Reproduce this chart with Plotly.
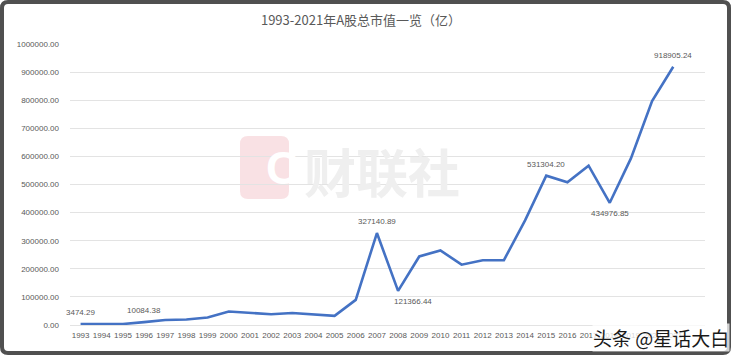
import plotly.graph_objects as go

# ---- data ----
years = [str(y) for y in range(1993, 2022)]
market_cap = [3474.29, 3691, 3474, 10084.38, 17529, 19506, 26471, 48091, 43522,
              38329, 42458, 37056, 32430, 89404, 327140.89, 121366.44, 243939,
              265423, 214758, 230358, 231000, 372547, 531304.20, 507686, 567086,
              434976.85, 592935, 797238, 918905.24]
label_years = ["1993", "1996", "2007", "2008", "2015", "2018", "2021"]
label_pos = ["top", "top", "top", "bottomright", "top", "bottom", "top"]
y_ticks = [0, 100000, 200000, 300000, 400000, 500000, 600000, 700000, 800000, 900000, 1000000]

title = "1993-2021年A股总市值一览（亿）"

# ---- layout geometry (pixels) ----
W, H = 732, 358
L, R, T, B = 70, 705, 44, 325
PW, PH = R - L, B - T


def px(x):
    return (x - L) / PW


def py(y):
    return (B - y) / PH


def rounded_path(x0, y0, x1, y1, r):
    return (f"M {px(x0 + r)} {py(y0)} L {px(x1 - r)} {py(y0)} "
            f"Q {px(x1)} {py(y0)} {px(x1)} {py(y0 + r)} "
            f"L {px(x1)} {py(y1 - r)} Q {px(x1)} {py(y1)} {px(x1 - r)} {py(y1)} "
            f"L {px(x0 + r)} {py(y1)} Q {px(x0)} {py(y1)} {px(x0)} {py(y1 - r)} "
            f"L {px(x0)} {py(y0 + r)} Q {px(x0)} {py(y0)} {px(x0 + r)} {py(y0)} Z")


fig = go.Figure()
fig.add_trace(go.Scatter(
    x=years, y=market_cap, mode="lines",
    line=dict(color="#4472C4", width=2.6),
    hoverinfo="x+y", showlegend=False,
))

annotations = []
for yr, pos in zip(label_years, label_pos):
    i = years.index(yr)
    v = market_cap[i]
    a = dict(x=i, y=v, xref="x", yref="y", text=f"{v:.2f}", showarrow=False,
             font=dict(family="Liberation Sans", size=8, color="#595959"))
    if pos == "top":
        a.update(yanchor="bottom", yshift=5)
    elif pos == "bottom":
        a.update(yanchor="top", yshift=-4)
    elif pos == "bottomright":
        a.update(yanchor="top", yshift=-4, xshift=15)
    annotations.append(a)

# watermark text
annotations.append(dict(x=px(264), y=py(168), xref="paper", yref="paper",
                        text="<b>C</b>", showarrow=False,
                        font=dict(family="Liberation Sans", size=46, color="#ffffff")))
annotations.append(dict(x=px(382), y=py(170), xref="paper", yref="paper",
                        text="<b>财联社</b>", showarrow=False,
                        font=dict(family="Noto Sans CJK SC", size=52, color="#efefef")))
# bottom-right signature
annotations.append(dict(x=px(730), y=py(337), xref="paper", yref="paper",
                        xanchor="right", yanchor="middle",
                        text="头条 @星话大白", showarrow=False,
                        bgcolor="rgba(255,255,255,0.75)", borderpad=0,
                        font=dict(family="Noto Sans CJK SC", size=19, color="#1a1a1a")))

shapes = [
    dict(type="path", xref="paper", yref="paper", path=rounded_path(240, 136, 289, 199, 8),
         fillcolor="#f9e1e4", line=dict(width=0), layer="below"),
    dict(type="path", xref="paper", yref="paper", path=rounded_path(2, 2, 729, 353, 6),
         fillcolor="rgba(0,0,0,0)", line=dict(color="#505050", width=4), layer="above"),
]

fig.update_layout(
    width=W, height=H,
    margin=dict(l=L, r=W - R, t=T, b=H - B),
    paper_bgcolor="white", plot_bgcolor="white",
    title=dict(text=title, x=361 / W, y=1 - 20 / H, xref="container", yref="container",
               xanchor="center", yanchor="middle",
               font=dict(family="Noto Sans CJK SC", size=13, color="#595959")),
    xaxis=dict(type="category", range=[-0.5, 29.5], tickmode="array",
               tickvals=years, ticktext=years, tickangle=0,
               showgrid=False, showline=False, zeroline=False, ticks="",
               ticklabelstandoff=4,
               tickfont=dict(family="Liberation Sans", size=8, color="#595959")),
    yaxis=dict(range=[0, 1000000], tickmode="array", tickvals=y_ticks,
               tickformat=".2f", showgrid=True, gridcolor="#e3e3e3", gridwidth=1,
               zeroline=True, zerolinecolor="#e3e3e3", zerolinewidth=1,
               showline=False, ticks="", ticklabelstandoff=10,
               tickfont=dict(family="Liberation Sans", size=8, color="#595959")),
    annotations=annotations,
    shapes=shapes,
)

fig.write_html("out.html")
